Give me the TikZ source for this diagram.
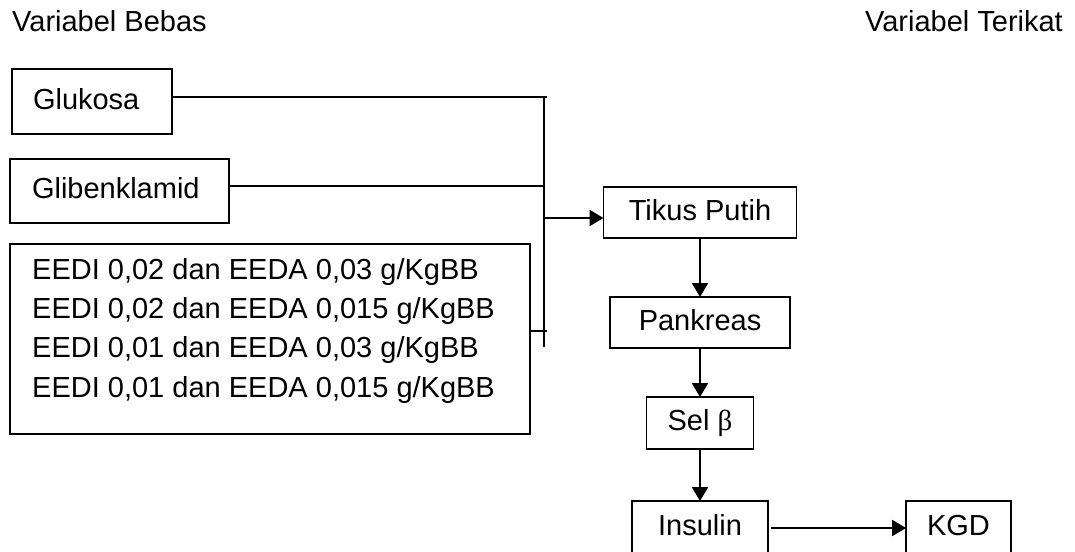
\documentclass[tikz,border=0pt]{standalone}
\usepackage{fontspec}
\setmainfont{Liberation Sans}
\newfontfamily\grkfont{Liberation Serif}
\usepackage{tikz}
\usetikzlibrary{arrows.meta,positioning}
\tikzset{
  kkbox/.style={
    draw,
    line width=1.6pt,
    minimum height=51pt,
    text height=21pt,
    text depth=6pt,
    inner sep=0pt,
    outer sep=0pt
  },
  kklabel/.style={inner sep=0pt, anchor=base west},
  kklink/.style={line width=1.3pt},
  kkarrow/.style={-{Triangle[length=14pt,width=16pt]}, line width=2.3pt}
}

\begin{document}
\begin{tikzpicture}[x=1pt, y=-1pt, node distance=59pt, font=\fontsize{29pt}{39.3pt}\selectfont]
\path[use as bounding box, clip] (0,0) rectangle (1075,551);
% judul
\node[kklabel] (bebas) at (12,32) {Variabel Bebas};
\node[kklabel, anchor=base east] (terikat) at (1063,32) {Variabel Terikat};
% variabel bebas
\node[kkbox, anchor=north west, minimum height=65pt, text width=118pt, inner xsep=21pt, align=left] (glukosa) at (12,69) {Glukosa};
\node[kkbox, anchor=north west, minimum height=64pt, text width=175pt, inner xsep=22pt, align=left] (gliben) at (10,159) {Glibenklamid};
\node[kkbox, anchor=north west, minimum width=520pt, minimum height=190pt] (dosis) at (10,244) {};
\node[anchor=north west, align=left, inner sep=0pt] (dosistxt) at ([xshift=22pt, yshift=-14pt]dosis.north west) {EEDI 0,02 dan EEDA 0,03 g/KgBB\\
EEDI 0,02 dan EEDA 0,015 g/KgBB\\
EEDI 0,01 dan EEDA 0,03 g/KgBB\\
EEDI 0,01 dan EEDA 0,015 g/KgBB};
% variabel terikat
\node[kkbox, minimum width=193pt] (tikus) at (700,212.5) {Tikus Putih};
\node[kkbox, minimum width=180pt, below=of tikus] (pankreas) {Pankreas};
\node[kkbox, minimum width=107pt, minimum height=52pt, below=49pt of pankreas] (sel) {Sel {\grkfont β}};
\node[kkbox, minimum width=136pt, minimum height=54pt, below=52pt of sel] (insulin) {Insulin};
\node[kkbox, minimum width=105pt, minimum height=54pt, right=138pt of insulin] (kgd) {KGD};
% garis penghubung
\coordinate (bus1) at (547,97);
\coordinate (bus2) at (544,186);
\coordinate (bus3) at (547,331);
\coordinate (bustop) at (544,96);
\coordinate (busbot) at (544,347);
\coordinate (busout) at (544,218);
\draw[kklink] (glukosa.east |- bus1) -- (bus1);
\draw[kklink] (gliben.east |- bus2) -- (bus2);
\draw[kklink] (dosis.east |- bus3) -- (bus3);
\draw[kklink] (bustop) -- (busbot);
\draw[kkarrow] (busout) -- (tikus.west |- busout);
\draw[kkarrow] (tikus) -- (pankreas);
\draw[kkarrow] (pankreas) -- (sel);
\draw[kkarrow] (sel) -- (insulin);
\draw[kkarrow] ([xshift=3pt]insulin.east) -- (kgd);
\end{tikzpicture}
\end{document}
